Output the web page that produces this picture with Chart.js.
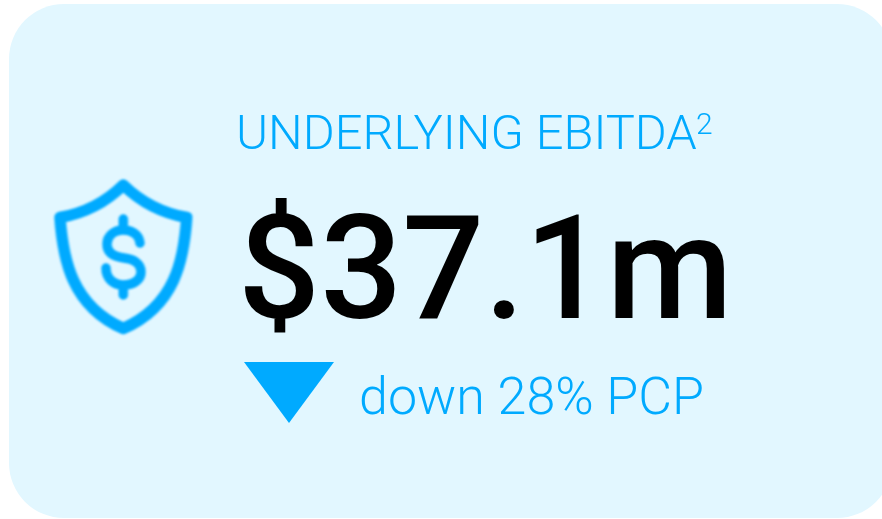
<!DOCTYPE html>
<html>
<head>
<meta charset="utf-8">
<title>Underlying EBITDA</title>
<script src="https://cdn.jsdelivr.net/npm/chart.js@4/dist/chart.umd.min.js"></script>
<style>
  html, body { margin: 0; padding: 0; background: #fff; }
  canvas { display: block; }
</style>
</head>
<body>
<canvas id="card" width="882" height="519"></canvas>
<script>
const metricNames = ['UNDERLYING EBITDA'];
const footnotes = ['2'];
const metricValues = [37.1];
const changeValues = [28];

const BLUE = '#00aaff';
const CARD = '#e2f7ff';

// arrow marker, a flatter triangle than the built in one
function arrowMarker() {
  const c = document.createElement('canvas');
  c.width = 90; c.height = 61;
  const g = c.getContext('2d');
  g.fillStyle = BLUE;
  g.beginPath();
  g.moveTo(0, 0); g.lineTo(90, 0); g.lineTo(45, 61);
  g.closePath();
  g.fill();
  return c;
}

// shield with dollar sign, slightly soft like the original icon
function shieldMarker() {
  const c = document.createElement('canvas');
  c.width = 150; c.height = 166;
  const g = c.getContext('2d');
  g.translate(-48.5, -174);
  g.filter = 'blur(0.8px)';
  g.strokeStyle = BLUE;
  g.lineCap = 'round';
  g.lineJoin = 'round';
  g.lineWidth = 11.5;
  g.beginPath();
  g.moveTo(123.3, 185);
  g.quadraticCurveTo(97, 211, 60, 217.5);
  g.bezierCurveTo(63, 260, 72, 306, 123.3, 328.5);
  g.bezierCurveTo(175, 306, 184, 260, 186.7, 217.5);
  g.quadraticCurveTo(150, 211, 123.3, 185);
  g.closePath();
  g.stroke();
  g.lineWidth = 9.5;
  g.beginPath();
  g.moveTo(140, 243);
  g.bezierCurveTo(139, 234, 131, 230, 123.3, 230);
  g.bezierCurveTo(114, 230, 107, 236, 107, 244);
  g.bezierCurveTo(107, 254, 116, 257, 124, 258);
  g.bezierCurveTo(133, 259, 141, 263, 141, 272);
  g.bezierCurveTo(141, 280, 133, 285, 123.3, 285);
  g.bezierCurveTo(114, 285, 106, 279, 106, 268);
  g.moveTo(123.3, 219); g.lineTo(123.3, 229);
  g.moveTo(123.3, 286); g.lineTo(123.3, 295);
  g.stroke();
  return c;
}

const cardPlugin = {
  id: 'cardPlugin',
  beforeDraw(chart) {
    const ctx = chart.ctx;
    ctx.save();
    ctx.fillStyle = CARD;
    ctx.beginPath();
    ctx.roundRect(9, 4, 883, 514, 55);
    ctx.fill();
    ctx.restore();
  },
  afterDatasetsDraw(chart) {
    const ctx = chart.ctx;
    ctx.save();
    ctx.textBaseline = 'alphabetic';
    ctx.textAlign = 'left';

    ctx.fillStyle = BLUE;
    ctx.font = '300 48.8px Roboto';
    ctx.fillText(metricNames[0], 236, 149);
    ctx.font = '300 30px Roboto';
    ctx.fillText(footnotes[0], 696, 134);

    ctx.font = '300 52px Roboto';
    ctx.fillText('down ' + changeValues[0] + '% PCP', 359, 414);

    ctx.fillStyle = '#000';
    ctx.font = '500 144.5px Roboto';
    ctx.fillText('$' + metricValues[0] + 'm', 238, 318);
    ctx.restore();
  }
};

new Chart(document.getElementById('card'), {
  type: 'scatter',
  data: {
    datasets: [
      { data: [{ x: 123.5, y: 257 }], pointStyle: shieldMarker(), pointRadius: 10 },
      { data: [{ x: 289, y: 392.5 }], pointStyle: arrowMarker(), pointRadius: 10 }
    ]
  },
  options: {
    responsive: false,
    animation: false,
    layout: { padding: 0, autoPadding: false },
    plugins: { legend: { display: false }, tooltip: { enabled: false } },
    scales: {
      x: { type: 'linear', min: 0, max: 882, display: false },
      y: { type: 'linear', min: 0, max: 519, reverse: true, display: false }
    }
  },
  plugins: [cardPlugin]
});
</script>
</body>
</html>
